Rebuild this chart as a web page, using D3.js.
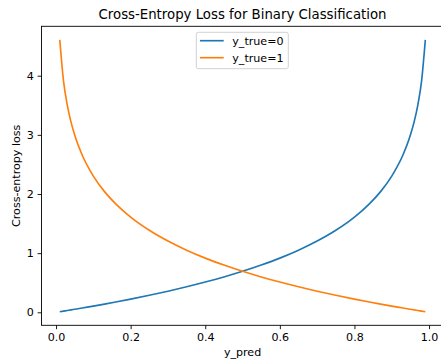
<!DOCTYPE html>
<html>
<head>
<meta charset="utf-8">
<script src="https://cdn.jsdelivr.net/npm/d3@7"></script>
<style>
  body { margin: 0; background: #fff; }
  svg { display: block; font-family: "DejaVu Sans", sans-serif; }
</style>
</head>
<body>
<svg id="chart" width="441" height="361"></svg>
<script>
// predicted probability
let yPred = [0.01, 0.02, 0.03, 0.04, 0.05, 0.07, 0.1, 0.13, 0.16, 0.2, 0.25, 0.3, 0.35, 0.4, 0.45, 0.5,
    0.55, 0.6, 0.65, 0.7, 0.75, 0.8, 0.84, 0.87, 0.9, 0.93, 0.95, 0.96, 0.97, 0.98, 0.99];
// loss when y_true = 0
let lossTrue0 = [0.010, 0.020, 0.030, 0.041, 0.051, 0.073, 0.105, 0.139, 0.174, 0.223, 0.288, 0.357, 0.431, 0.511, 0.598, 0.693,
    0.799, 0.916, 1.050, 1.204, 1.386, 1.609, 1.833, 2.040, 2.303, 2.659, 2.996, 3.219, 3.507, 3.912, 4.605];
// loss when y_true = 1
let lossTrue1 = [4.605, 3.912, 3.507, 3.219, 2.996, 2.659, 2.303, 2.040, 1.833, 1.609, 1.386, 1.204, 1.050, 0.916, 0.799, 0.693,
    0.598, 0.511, 0.431, 0.357, 0.288, 0.223, 0.174, 0.139, 0.105, 0.073, 0.051, 0.041, 0.030, 0.020, 0.010];
let seriesNames = ["y_true=0", "y_true=1"];
let seriesColors = ["#1f77b4", "#ff7f0e"];
let xTicks = [0.0, 0.2, 0.4, 0.6, 0.8, 1.0];
let yTicks = [0, 1, 2, 3, 4];

let svg = d3.select("#chart");
let plotLeft = 41.5, plotRight = 443.6, plotTop = 26.3, plotBottom = 325.3;
let fontSize = 11.1;

let x = d3.scaleLinear().domain([-0.039, 1.039]).range([plotLeft, plotRight]);
let y = d3.scaleLinear().domain([-0.2197, 4.835]).range([plotBottom, plotTop]);

// lines
let series = [lossTrue0, lossTrue1];
let line = d3.line()
    .x(d => x(d[0]))
    .y(d => y(d[1]))
    .curve(d3.curveMonotoneX);

series.forEach(function (vals, i) {
    svg.append("path")
        .datum(yPred.map((p, j) => [p, vals[j]]))
        .attr("d", line)
        .attr("fill", "none")
        .attr("stroke", seriesColors[i])
        .attr("stroke-width", 1.65);
});

// axes
let xAxis = svg.append("g")
    .attr("transform", `translate(0,${plotBottom})`)
    .call(d3.axisBottom(x).tickValues(xTicks).tickFormat(d3.format(".1f")).tickSizeOuter(0).tickSize(3.9).tickPadding(3.9));
let yAxis = svg.append("g")
    .attr("transform", `translate(${plotLeft},0)`)
    .call(d3.axisLeft(y).tickValues(yTicks).tickFormat(d3.format("d")).tickSizeOuter(0).tickSize(3.9).tickPadding(3.9));

[xAxis, yAxis].forEach(function (a) {
    a.select(".domain").remove();
    a.selectAll("line").attr("stroke", "#000").attr("stroke-width", 0.9);
    a.selectAll("text").attr("fill", "#000").style("font-size", fontSize + "px").style("font-family", "DejaVu Sans");
});

// spines
svg.append("rect")
    .attr("x", plotLeft).attr("y", plotTop)
    .attr("width", plotRight - plotLeft).attr("height", plotBottom - plotTop)
    .attr("fill", "none").attr("stroke", "#000").attr("stroke-width", 0.9);

// title and labels
svg.append("text")
    .attr("x", (plotLeft + plotRight) / 2).attr("y", 19.3)
    .attr("text-anchor", "middle")
    .style("font-size", "13.3px")
    .text("Cross-Entropy Loss for Binary Classification");

svg.append("text")
    .attr("x", (plotLeft + plotRight) / 2).attr("y", 355.5)
    .attr("text-anchor", "middle")
    .style("font-size", fontSize + "px")
    .text("y_pred");

svg.append("text")
    .attr("transform", `translate(20,${(plotTop + plotBottom) / 2}) rotate(-90)`)
    .attr("text-anchor", "middle")
    .style("font-size", fontSize + "px")
    .text("Cross-entropy loss");

// legend
let legend = svg.append("g").attr("transform", "translate(196.3,32.3)");
legend.append("rect")
    .attr("width", 92).attr("height", 36.4)
    .attr("rx", 2).attr("ry", 2)
    .attr("fill", "#fff").attr("fill-opacity", 0.8)
    .attr("stroke", "#ccc").attr("stroke-width", 0.9);

seriesNames.forEach(function (name, i) {
    let yy = 8.4 + i * 17;
    legend.append("line")
        .attr("x1", 3.7).attr("x2", 27.4)
        .attr("y1", yy).attr("y2", yy)
        .attr("stroke", seriesColors[i]).attr("stroke-width", 1.65);
    legend.append("text")
        .attr("x", 36).attr("y", yy + 4)
        .style("font-size", fontSize + "px")
        .text(name);
});
</script>
</body>
</html>
